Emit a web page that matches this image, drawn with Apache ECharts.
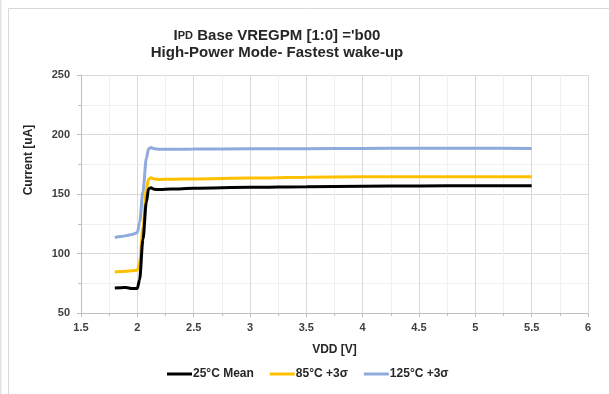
<!DOCTYPE html>
<html>
<head>
<meta charset="utf-8">
<script src="https://cdn.jsdelivr.net/npm/echarts@6/dist/echarts.min.js"></script>
<style>html,body{margin:0;padding:0;background:#fff;}#c{width:609px;height:394px;}</style>
</head>
<body>
<div id="c"></div>
<script>
// ---- data ----
const vddBlack = [1.8, 1.85, 1.9, 1.95, 2.0, 2.02, 2.05, 2.08, 2.1, 2.12, 2.15, 2.2, 2.3, 2.5, 3.0, 3.5, 4.0, 4.5, 5.0, 5.5];
const mean25   = [71, 71.2, 71.5, 70.5, 70.6, 78, 112, 143, 154.5, 155.2, 154, 153.7, 154.2, 154.8, 155.6, 156.1, 156.5, 156.8, 157, 157];
const vddOrange = [1.8, 1.85, 1.9, 1.95, 2.0, 2.02, 2.05, 2.08, 2.1, 2.12, 2.15, 2.2, 2.3, 2.5, 3.0, 3.5, 4.0, 4.5, 5.0, 5.5];
const sigma85  = [84.5, 84.8, 85, 85.4, 86, 92, 122, 154, 162.5, 163.6, 162.6, 162.2, 162.4, 162.7, 163.5, 164, 164.4, 164.6, 164.6, 164.6];
const vddBlue = [1.8, 1.85, 1.9, 1.95, 2.0, 2.02, 2.05, 2.08, 2.1, 2.12, 2.15, 2.2, 2.3, 2.5, 3.0, 3.5, 4.0, 4.5, 5.0, 5.5];
const sigma125 = [113.5, 114.2, 115, 116, 117.5, 126, 152, 180, 188, 189, 188, 187.6, 187.6, 187.8, 188, 188.1, 188.3, 188.5, 188.5, 188.3];
const seriesNames = ['25°C Mean', '85°C +3σ', '125°C +3σ'];
const xTicks = {min: 1.5, max: 6, interval: 0.5};
const yTicks = {min: 50, max: 250, interval: 50};

const zip = (xs, ys) => xs.map((x, i) => [x, ys[i]]);
const font = 'Liberation Sans';
const chart = echarts.init(document.getElementById('c'), null, {renderer: 'canvas'});
chart.setOption({
  animation: false,
  backgroundColor: '#fff',
  title: [{
    text: '{a|I}{b|PD}{a| Base VREGPM [1:0] =\'b00}',
    left: 272, top: 23, textAlign: 'center',
    textStyle: {rich: {
      a: {fontFamily: font, fontWeight: 'bold', fontSize: 15, color: '#262626'},
      b: {fontFamily: font, fontWeight: 'bold', fontSize: 11, color: '#262626'}
    }}
  }, {
    text: 'High-Power Mode- Fastest wake-up',
    left: 272, top: 40, textAlign: 'center',
    textStyle: {fontFamily: font, fontWeight: 'bold', fontSize: 15, color: '#262626'}
  }],
  graphic: [
    {type: 'rect', shape: {x: 8.5, y: 8.5, width: 800, height: 600}, style: {fill: 'none', stroke: '#d9d9d9', lineWidth: 1}, silent: true},
    {type: 'rect', shape: {x: 0, y: 0, width: 1.5, height: 394}, style: {fill: '#e3e3e3'}, silent: true},
    {type: 'text', x: 29, y: 160, rotation: Math.PI / 2,
      style: {text: 'Current [uA]', fontFamily: font, fontWeight: 'bold', fontSize: 12, fill: '#262626', textAlign: 'center', textVerticalAlign: 'middle'}}
  ],
  legend: {
    data: seriesNames,
    bottom: 9, left: 162,
    icon: 'rect', itemWidth: 25, itemHeight: 3, itemGap: 16,
    textStyle: {fontFamily: font, fontWeight: 'bold', fontSize: 12, color: '#262626', padding: [0, 0, 0, -4]}
  },
  grid: {left: 81, right: 21, top: 75, bottom: 81},
  xAxis: {
    type: 'value', min: xTicks.min, max: xTicks.max, interval: xTicks.interval,
    name: 'VDD [V]', nameLocation: 'middle', nameGap: 31,
    nameTextStyle: {fontFamily: font, fontWeight: 'bold', fontSize: 12, color: '#262626'},
    axisLine: {show: true, lineStyle: {color: '#bfbfbf'}},
    axisTick: {show: true, length: 4, inside: false, lineStyle: {color: '#bfbfbf'}},
    minorTick: {show: true, splitNumber: 2, length: 3, lineStyle: {color: '#bfbfbf'}},
    axisLabel: {fontFamily: font, fontWeight: 'bold', fontSize: 11, color: '#404040', margin: 9},
    splitLine: {show: true, lineStyle: {color: '#d9d9d9', width: 1}},
    minorSplitLine: {show: true, lineStyle: {color: '#f0f0f0', width: 1}}
  },
  yAxis: {
    type: 'value', min: yTicks.min, max: yTicks.max, interval: yTicks.interval,
    axisLine: {show: true, lineStyle: {color: '#bfbfbf'}},
    axisTick: {show: true, length: 4, lineStyle: {color: '#bfbfbf'}},
    minorTick: {show: true, splitNumber: 2, length: 3, lineStyle: {color: '#bfbfbf'}},
    axisLabel: {fontFamily: font, fontWeight: 'bold', fontSize: 11, color: '#404040', margin: 11},
    splitLine: {show: true, lineStyle: {color: '#d9d9d9', width: 1}},
    minorSplitLine: {show: true, lineStyle: {color: '#f0f0f0', width: 1}}
  },
  series: [
    {name: seriesNames[0], type: 'line', data: zip(vddBlack, mean25), showSymbol: false, symbol: 'none',
      smooth: 0.3, smoothMonotone: 'x', lineStyle: {color: '#000000', width: 3}, itemStyle: {color: '#000000'}, z: 4},
    {name: seriesNames[1], type: 'line', data: zip(vddOrange, sigma85), showSymbol: false, symbol: 'none',
      smooth: 0.3, smoothMonotone: 'x', lineStyle: {color: '#ffc000', width: 3}, itemStyle: {color: '#ffc000'}, z: 3},
    {name: seriesNames[2], type: 'line', data: zip(vddBlue, sigma125), showSymbol: false, symbol: 'none',
      smooth: 0.3, smoothMonotone: 'x', lineStyle: {color: '#8faadc', width: 3}, itemStyle: {color: '#8faadc'}, z: 2}
  ]
});
</script>
</body>
</html>
